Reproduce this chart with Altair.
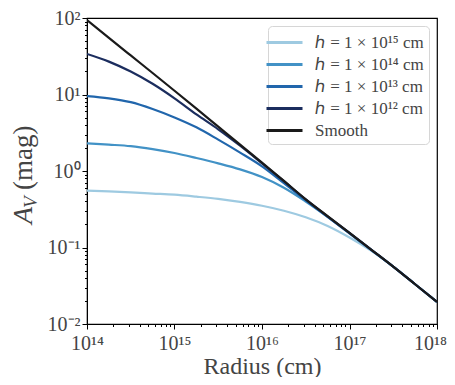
import altair as alt
import pandas as pd

radius = [1e14, 1.78e14, 3.16e14, 5.62e14, 1e15, 1.78e15, 3.16e15, 5.62e15,
          1e16, 1.78e16, 3.16e16, 5.62e16, 1e17, 1.78e17, 3.16e17, 5.62e17, 1e18]

av_h15 = [0.553, 0.540, 0.525, 0.507, 0.490, 0.462, 0.432, 0.394, 0.351, 0.302,
          0.248, 0.191, 0.135, 0.0902, 0.0562, 0.0331, 0.0195]
av_h14 = [2.30, 2.21, 2.11, 1.93, 1.72, 1.48, 1.26, 1.05, 0.832, 0.603,
          0.398, 0.251, 0.153, 0.0923, 0.0562, 0.0331, 0.0195]
av_h13 = [9.55, 8.91, 7.94, 6.46, 5.01, 3.72, 2.57, 1.74, 1.15, 0.692,
          0.412, 0.251, 0.153, 0.0933, 0.0562, 0.0331, 0.0195]
av_h12 = [33.9, 26.9, 19.95, 13.8, 8.91, 5.50, 3.51, 2.14, 1.26, 0.736,
          0.425, 0.256, 0.155, 0.0933, 0.0562, 0.0331, 0.0195]
av_smooth = [94.2, 55.0, 32.4, 19.1, 11.2, 6.53, 3.80, 2.21, 1.29, 0.741,
             0.427, 0.257, 0.155, 0.0933, 0.0562, 0.0331, 0.0195]

series_names = ["ℎ = 1 × 10¹⁵ cm", "ℎ = 1 × 10¹⁴ cm", "ℎ = 1 × 10¹³ cm",
                "ℎ = 1 × 10¹² cm", "Smooth"]
series_values = [av_h15, av_h14, av_h13, av_h12, av_smooth]
series_colors = ["#9ecae1", "#4292c6", "#2166ac", "#1b2d5e", "#1a1a1a"]

x_decades = [14, 15, 16, 17, 18]
y_decades = [-2, -1, 0, 1, 2]
sup = {"-": "⁻", "0": "⁰", "1": "¹", "2": "²", "3": "³", "4": "⁴",
       "5": "⁵", "6": "⁶", "7": "⁷", "8": "⁸", "9": "⁹"}

rows = []
for name, vals in zip(series_names, series_values):
    for r, v in zip(radius, vals):
        rows.append({"r": r, "av": v, "series": name})
df = pd.DataFrame(rows)


def label_expr(decades):
    expr = "''"
    for d in reversed(decades):
        lab = "10" + "".join(sup[c] for c in str(d))
        expr = f"(abs(log(datum.value)/LN10 - {d}) < 0.001) ? '{lab}' : " + expr
    return expr


def minor_values(decades):
    vals = []
    for d in decades[:-1]:
        for k in range(1, 10):
            vals.append(float(f"{k}e{d}"))
    vals.append(float(f"1e{decades[-1]}"))
    return vals


major_test = "abs(log(datum.value)/LN10 - round(log(datum.value)/LN10)) < 0.001"
font = "Liberation Serif, serif"

x_axis = alt.Axis(
    values=minor_values(x_decades), labelExpr=label_expr(x_decades),
    grid=False, domainColor="black", tickColor="black",
    tickSize={"condition": {"test": major_test, "value": 5}, "value": 2.5},
    labelFont=font, labelFontSize=20, labelColor="#444", labelPadding=4,
    labelOffset={"condition": {"test": "datum.value >= 9e17", "value": -7},
                 "value": 0},
    labelOverlap=False, labelFlush=False,
    title="Radius (cm)", titleFont=font, titleFontSize=24,
    titleFontWeight="normal", titleColor="#444",
    titleBaseline="alphabetic", titleY=49,
)
y_axis = alt.Axis(
    values=minor_values(y_decades), labelExpr=label_expr(y_decades),
    grid=False, domainColor="black", tickColor="black",
    tickSize={"condition": {"test": major_test, "value": 5}, "value": 2.5},
    labelFont=font, labelFontSize=20, labelColor="#444", labelPadding=2,
    labelOverlap=False, labelFlush=False, title=None,
)

lines = alt.Chart(df).mark_line(strokeWidth=2.2, clip=True,
                                interpolate="monotone").encode(
    x=alt.X("r:Q", scale=alt.Scale(type="log", domain=[1e14, 1e18], nice=False),
            axis=x_axis),
    y=alt.Y("av:Q", scale=alt.Scale(type="log", domain=[1e-2, 1e2], nice=False),
            axis=y_axis),
    color=alt.Color(
        "series:N",
        scale=alt.Scale(domain=series_names, range=series_colors),
        sort=series_names,
        legend=alt.Legend(
            orient="none", legendX=181, legendY=8, title=None,
            symbolType="M-1.8,0H1.8", symbolSize=400, symbolStrokeWidth=3,
            labelFont=font, labelFontSize=17, labelColor="#444",
            fillColor="white", strokeColor="#d6d6d6", cornerRadius=4,
            padding=5, rowPadding=2, labelOffset=19,
        ),
    ),
    order=alt.Order("r:Q"),
)

title_data = alt.Data(values=[{"t": 1}])
t_a = alt.Chart(title_data).mark_text(
    text="A", angle=270, align="left", baseline="middle", font=font,
    fontSize=28, fontStyle="italic", color="#444",
).encode(x=alt.value(-63), y=alt.value(206))
t_v = alt.Chart(title_data).mark_text(
    text="V", angle=270, align="left", baseline="middle", font=font,
    fontSize=19, fontStyle="italic", color="#444",
).encode(x=alt.value(-56), y=alt.value(190))
t_mag = alt.Chart(title_data).mark_text(
    text="(mag)", angle=270, align="left", baseline="middle", font=font,
    fontSize=27, color="#444",
).encode(x=alt.value(-63), y=alt.value(172))

chart = alt.layer(lines, t_a, t_v, t_mag).properties(
    width=350, height=306,
    autosize=alt.AutoSizeParams(type="none"),
    padding={"left": 79, "top": 10, "right": 10, "bottom": 53},
).configure_view(stroke="black", strokeWidth=1.2)

chart.save("out.html", embed_options={"renderer": "svg", "actions": False})
